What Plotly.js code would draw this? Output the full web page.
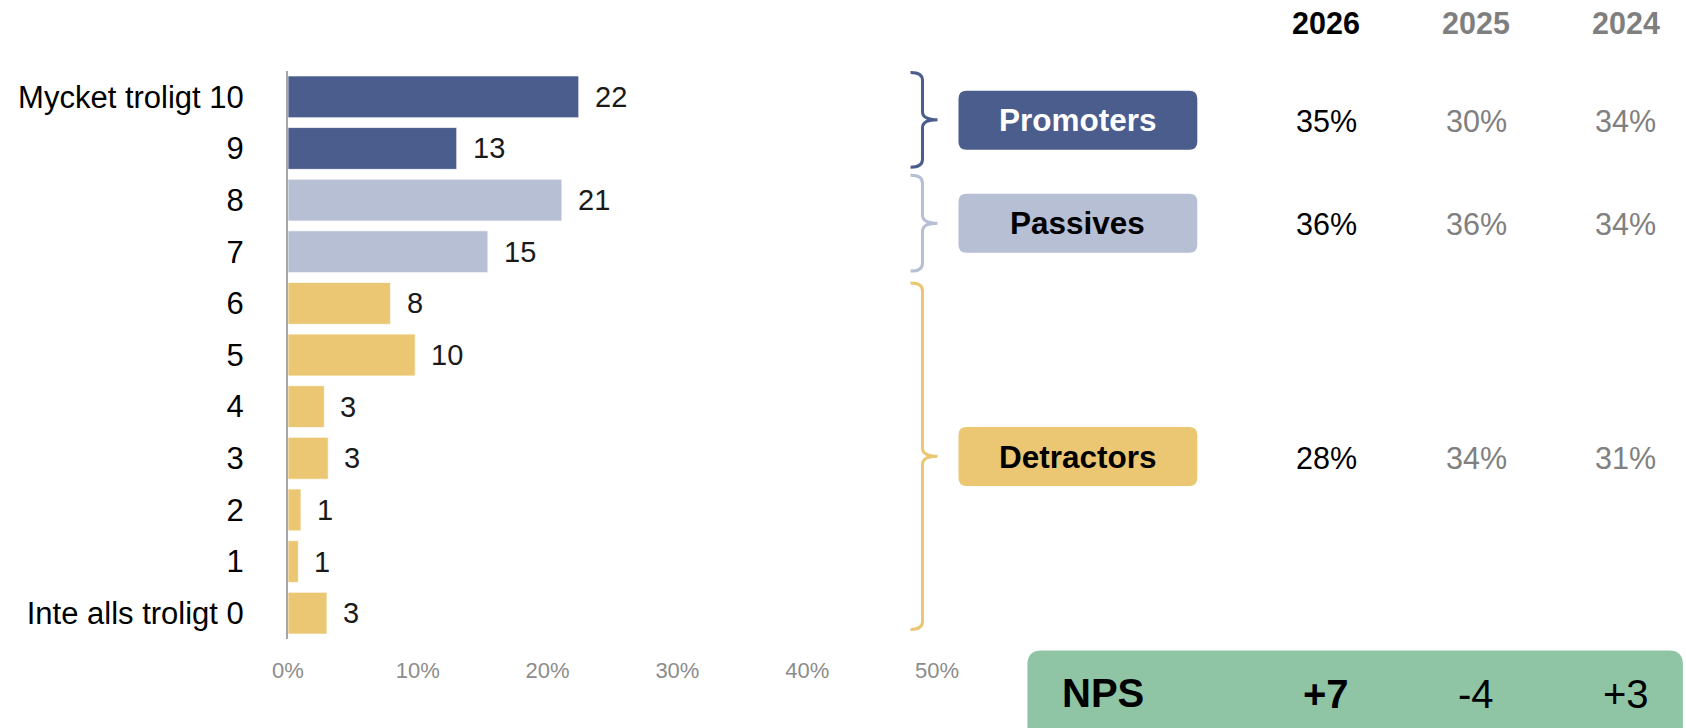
<!DOCTYPE html>
<html>
<head>
<meta charset="utf-8">
<script src="https://cdn.plot.ly/plotly-3.0.1.min.js"></script>
<style>html,body{margin:0;padding:0;background:#fff;}#chart{width:1686px;height:728px;}</style>
</head>
<body>
<div id="chart"></div>
<script>
// ---- data ----
const scores = [10, 9, 8, 7, 6, 5, 4, 3, 2, 1, 0];
const scoreLabels = ['Mycket troligt 10', '9', '8', '7', '6', '5', '4', '3', '2', '1', 'Inte alls troligt 0'];
const shares = [22.4, 13.0, 21.1, 15.4, 7.9, 9.8, 2.8, 3.1, 1.0, 0.8, 3.0];
const groupOfScore = ['P', 'P', 'N', 'N', 'D', 'D', 'D', 'D', 'D', 'D', 'D'];
const years = ['2026', '2025', '2024'];
const promoters = [35, 30, 34];
const passives = [36, 36, 34];
const detractors = [28, 34, 31];
const groupNames = ['Promoters', 'Passives', 'Detractors'];
const xTicks = [0, 10, 20, 30, 40, 50];

// ---- styles ----
const FONT = 'Liberation Sans, Arial, sans-serif';
const colors = {P: '#4b5d8c', N: '#b6bfd3', D: '#ebc773'};
const W = 1686, H = 728;
const plotL = 288, plotR = 937.5, plotT = 70.6, plotB = 639.4;
const px = x => (x - plotL) / (plotR - plotL);
const py = y => (plotB - y) / (plotB - plotT);

function roundRect(x0, y0, x1, y1, r) {
  const X = px, Y = py;
  return `M ${X(x0 + r)} ${Y(y0)} L ${X(x1 - r)} ${Y(y0)} Q ${X(x1)} ${Y(y0)} ${X(x1)} ${Y(y0 + r)} ` +
    `L ${X(x1)} ${Y(y1 - r)} Q ${X(x1)} ${Y(y1)} ${X(x1 - r)} ${Y(y1)} L ${X(x0 + r)} ${Y(y1)} ` +
    `Q ${X(x0)} ${Y(y1)} ${X(x0)} ${Y(y1 - r)} L ${X(x0)} ${Y(y0 + r)} Q ${X(x0)} ${Y(y0)} ${X(x0 + r)} ${Y(y0)} Z`;
}
function brace(xl, xv, xp, yt, yb) {
  const ym = (yt + yb) / 2, X = px, Y = py, c = 8;
  return `M ${X(xl)} ${Y(yt)} Q ${X(xv)} ${Y(yt)} ${X(xv)} ${Y(yt + c)} L ${X(xv)} ${Y(ym - c)} ` +
    `Q ${X(xv)} ${Y(ym)} ${X(xp)} ${Y(ym)} Q ${X(xv)} ${Y(ym)} ${X(xv)} ${Y(ym + c)} ` +
    `L ${X(xv)} ${Y(yb - c)} Q ${X(xv)} ${Y(yb)} ${X(xl)} ${Y(yb)}`;
}

const trace = {
  type: 'bar', orientation: 'h',
  x: shares, y: scores,
  marker: {color: groupOfScore.map(g => colors[g]), line: {color: 'rgba(255,255,255,0.7)', width: 1}},
  hoverinfo: 'none', showlegend: false
};

const shapes = [];
const annotations = [];

// value labels next to bars
shares.forEach((v, i) => {
  annotations.push({x: v, y: scores[i], xref: 'x', yref: 'y', text: String(Math.round(v)),
    showarrow: false, xanchor: 'left', xshift: 14, font: {family: FONT, size: 29, color: '#1a1a1a'}});
});

// groups: braces, boxes, percentages
const groupRows = [
  {key: 'P', name: groupNames[0], vals: promoters, yt: 72, yb: 167, by: 120, txt: '#ffffff', ty: 120.5},
  {key: 'N', name: groupNames[1], vals: passives, yt: 175, yb: 271, by: 223, txt: '#000000', ty: 224},
  {key: 'D', name: groupNames[2], vals: detractors, yt: 283, yb: 630, by: 456.7, txt: '#000000', ty: 458}
];
const colX = [1327, 1477, 1627];
groupRows.forEach(g => {
  shapes.push({type: 'path', xref: 'paper', yref: 'paper', path: brace(911, 923, 938, g.yt, g.yb),
    line: {color: colors[g.key], width: 3}});
  shapes.push({type: 'path', xref: 'paper', yref: 'paper', path: roundRect(959, g.by - 29.5, 1198, g.by + 29.5, 8),
    fillcolor: colors[g.key], line: {width: 0}});
  annotations.push({x: px(1078.5), y: py(g.by), xref: 'paper', yref: 'paper', text: '<b>' + g.name + '</b>',
    showarrow: false, xanchor: 'center', yanchor: 'middle', font: {family: FONT, size: 31.5, color: g.txt}});
  g.vals.forEach((v, j) => {
    annotations.push({x: px(colX[j]), y: py(g.ty), xref: 'paper', yref: 'paper', text: v + '%',
      showarrow: false, xanchor: 'center', yanchor: 'middle',
      font: {family: FONT, size: 30.5, color: j === 0 ? '#000000' : '#808080'}});
  });
});

// year headers
years.forEach((yr, j) => {
  annotations.push({x: px(colX[j]), y: py(23), xref: 'paper', yref: 'paper', text: '<b>' + yr + '</b>',
    showarrow: false, xanchor: 'center', yanchor: 'middle',
    font: {family: FONT, size: 30.5, color: j === 0 ? '#000000' : '#7f7f7f'}});
});

// NPS box
shapes.push({type: 'path', xref: 'paper', yref: 'paper', path: roundRect(1028, 651, 1684, 745, 14),
  fillcolor: '#8fc5a5', line: {width: 0}});
annotations.push({x: px(1104), y: py(693), xref: 'paper', yref: 'paper', text: '<b>NPS</b>',
  showarrow: false, xanchor: 'center', yanchor: 'middle', font: {family: FONT, size: 40, color: '#000000'}});
years.forEach((yr, j) => {
  const n = promoters[j] - detractors[j];
  const s = (n > 0 ? '+' : '') + n;
  annotations.push({x: px(colX[j]), y: py(694), xref: 'paper', yref: 'paper', text: j === 0 ? '<b>' + s + '</b>' : s,
    showarrow: false, xanchor: 'center', yanchor: 'middle', font: {family: FONT, size: 40, color: '#000000'}});
});

const layout = {
  width: W, height: H,
  margin: {l: plotL, r: W - plotR, t: plotT, b: H - plotB, pad: 0},
  paper_bgcolor: '#ffffff', plot_bgcolor: '#ffffff',
  bargap: 0.19,
  xaxis: {range: [0, 50], tickvals: xTicks, ticktext: xTicks.map(t => t + '%'), showgrid: false, zeroline: false,
    showline: false, ticks: '', ticklabelstandoff: 16, tickfont: {family: FONT, size: 22, color: '#8c8c8c'}, fixedrange: true},
  yaxis: {range: [-0.5, 10.5], tickvals: scores, ticktext: scoreLabels, showgrid: false, zeroline: false,
    showline: true, linecolor: '#a6a6a6', linewidth: 2, ticks: '', ticklabelstandoff: 36,
    tickfont: {family: FONT, size: 31, color: '#000000'}, fixedrange: true},
  shapes: shapes,
  annotations: annotations,
  font: {family: FONT}
};

Plotly.newPlot('chart', [trace], layout, {displayModeBar: false, staticPlot: true});
</script>
</body>
</html>
